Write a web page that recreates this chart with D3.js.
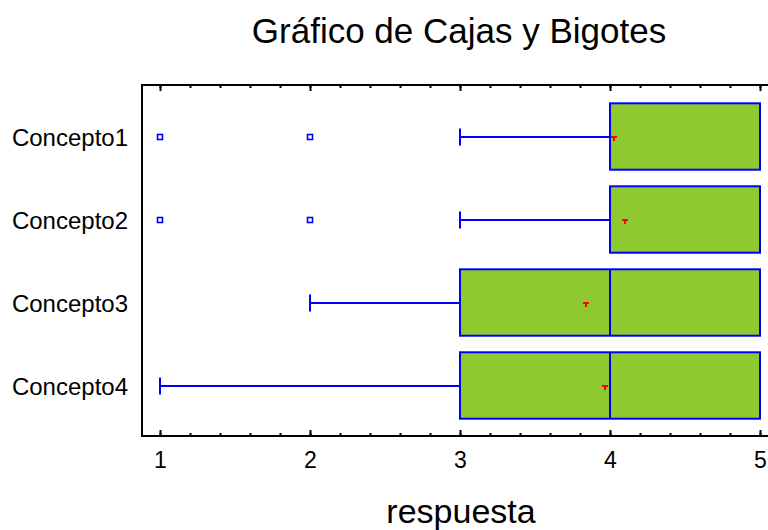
<!DOCTYPE html>
<html><head><meta charset="utf-8">
<script src="https://cdn.jsdelivr.net/npm/d3@7"></script>
<style>body{margin:0;background:#fff}svg{display:block}text{font-family:"Liberation Sans",Arial,Helvetica,sans-serif}</style>
</head><body>
<svg id="c" width="768" height="530"></svg>
<script>
const categories = ["Concepto1","Concepto2","Concepto3","Concepto4"];
const whiskerLow = [3,3,2,1];
const q1 = [4,4,3,3];
const median = [4,4,4,4];
const q3 = [5,5,5,5];
const whiskerHigh = [5,5,5,5];
const means = [4.02,4.09,3.83,3.96];
const outliers = [[1,2],[1,2],[],[]];
const xTicks = [1,2,3,4,5];

(function(){
const svg = d3.select("#c");
const x = d3.scaleLinear().domain([1,5]).range([160,760]);
const y = d3.scaleBand().domain(categories).range([95,427]).paddingInner(0.2).paddingOuter(0.1);
const pL = 142, pR = 768, pT = 85, pB = 436;

svg.append("text").attr("x",459).attr("y",43).attr("text-anchor","middle")
  .attr("font-size",35).text("Gráfico de Cajas y Bigotes");
svg.append("text").attr("x",461).attr("y",523).attr("text-anchor","middle")
  .attr("font-size",34).text("respuesta");

const minor = d3.range(1,5.001,0.2);
const gB = svg.append("g").attr("transform",`translate(0,${pB})`);
gB.call(d3.axisBottom(x).tickValues(minor).tickSize(-3).tickFormat(""));
gB.call(g=>g.select(".domain").remove());
const gB2 = svg.append("g").attr("transform",`translate(0,${pB})`);
gB2.call(d3.axisBottom(x).tickValues(xTicks).tickSize(-6).tickFormat(d3.format("d")));
gB2.call(g=>g.select(".domain").remove());
gB2.selectAll("text").attr("font-size",23).attr("font-family","Liberation Sans, Arial, sans-serif").attr("fill","#000").attr("dy",null).attr("y",32);
const gT = svg.append("g").attr("transform",`translate(0,${pT})`);
gT.call(d3.axisTop(x).tickValues(minor).tickSize(-3).tickFormat(""));
gT.call(g=>g.select(".domain").remove());
const gT2 = svg.append("g").attr("transform",`translate(0,${pT})`);
gT2.call(d3.axisTop(x).tickValues(xTicks).tickSize(-6).tickFormat(""));
gT2.call(g=>g.select(".domain").remove());
svg.selectAll(".tick line").attr("stroke","#000").attr("stroke-width",2);

svg.append("path").attr("d",`M${pR},${pT}H${pL}V${pB}H${pR}`)
  .attr("fill","none").attr("stroke","#000").attr("stroke-width",2);

const gL = svg.append("g").attr("transform",`translate(${pL},0)`);
gL.call(d3.axisLeft(y).tickSize(0).tickPadding(14));
gL.select(".domain").remove();
gL.selectAll("text").attr("font-size",24).attr("font-family","Liberation Sans, Arial, sans-serif").attr("fill","#000").attr("dy","0.4em");

const blue = "#0000ff";
const bw = y.bandwidth();
categories.forEach((c,i)=>{
  const yc = Math.round(y(c)+bw/2);
  const g = svg.append("g");
  g.append("line").attr("x1",x(whiskerLow[i])).attr("x2",x(q1[i])).attr("y1",yc).attr("y2",yc).attr("stroke",blue).attr("stroke-width",2);
  g.append("line").attr("x1",x(q3[i])).attr("x2",x(whiskerHigh[i])).attr("y1",yc).attr("y2",yc).attr("stroke",blue).attr("stroke-width",2);
  [whiskerLow[i],whiskerHigh[i]].forEach(v=>{
    g.append("line").attr("x1",x(v)).attr("x2",x(v)).attr("y1",yc-8.5).attr("y2",yc+8.5).attr("stroke",blue).attr("stroke-width",2);
  });
  g.append("rect").attr("x",x(q1[i])).attr("y",y(c)).attr("width",x(q3[i])-x(q1[i])).attr("height",bw)
    .attr("fill","#8dc92f").attr("stroke",blue).attr("stroke-width",2);
  g.append("line").attr("x1",x(median[i])).attr("x2",x(median[i])).attr("y1",y(c)).attr("y2",y(c)+bw).attr("stroke",blue).attr("stroke-width",2);
  const mx = Math.round(x(means[i]));
  g.append("path").attr("d",`M${mx-2},${yc}H${mx+4}M${mx+0.5},${yc-1}V${yc+4}`)
    .attr("stroke","#ff0000").attr("stroke-width",2).attr("shape-rendering","crispEdges");
  outliers[i].forEach(v=>{
    g.append("rect").attr("x",x(v)-2.5).attr("y",yc-2.5).attr("width",5).attr("height",5)
      .attr("fill","#fff").attr("stroke",blue).attr("stroke-width",1.6);
  });
});
})();
</script>
</body></html>
